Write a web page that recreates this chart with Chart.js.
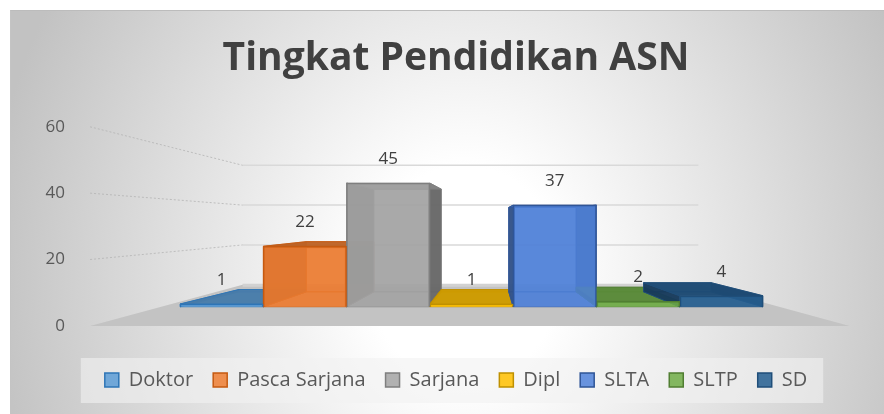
<!DOCTYPE html>
<html>
<head>
<meta charset="utf-8">
<script src="https://cdn.jsdelivr.net/npm/chart.js@4"></script>
<style>
html, body { margin: 0; padding: 0; background: #fff; }
#latar {
    position: absolute; left: 10px; top: 10px; width: 874px; height: 404px;
    box-sizing: border-box;
    border-top: 1px solid #bcbcbc; border-left: 1px solid #c4c4c4;
    background: radial-gradient(ellipse 480px 540px at 454px 263px, #ffffff 0%, #ffffff 20%, #c2c2c2 100%);
}
#wadah { position: absolute; left: 0; top: 0; width: 884px; height: 414px; }
</style>
</head>
<body>
<div id="latar"></div>
<div id="wadah"><canvas id="chartPendidikan" width="884" height="414"></canvas></div>
<script>
const kategori = ['Doktor', 'Pasca Sarjana', 'Sarjana', 'Dipl', 'SLTA', 'SLTP', 'SD'];
const jumlah = [1, 22, 45, 1, 37, 2, 4];
const tickY = [0, 20, 40, 60];
const warnaIsi = ['#5B9BD5', '#ED7D31', '#A5A5A5', '#FFC000', '#4F81D9', '#70AD47', '#255E91'];
const warnaGaris = ['#2E75B6', '#C55A11', '#7F7F7F', '#BF9000', '#2F5597', '#507E32', '#1F4E79'];

function rgba(hex, f, a) {
    const n = parseInt(hex.slice(1), 16);
    const r = Math.round(((n >> 16) & 255) * f), g = Math.round(((n >> 8) & 255) * f), b = Math.round((n & 255) * f);
    return `rgba(${r},${g},${b},${a})`;
}

function poligon(ctx, titik, isi, garis) {
    ctx.beginPath();
    ctx.moveTo(titik[0][0], titik[0][1]);
    for (let i = 1; i < titik.length; i++) ctx.lineTo(titik[i][0], titik[i][1]);
    ctx.closePath();
    ctx.fillStyle = isi;
    ctx.fill();
    if (garis) { ctx.strokeStyle = garis; ctx.lineWidth = 1; ctx.stroke(); }
}

// lantai, dinding belakang dan sisi-sisi balok 3D
const efek3D = {
    id: 'efek3D',
    beforeDraw(chart) {
        const lg = chart.legend;
        if (!lg || !lg.legendHitBoxes.length) return;
        const hb = lg.legendHitBoxes;
        const kiri = Math.min(...hb.map(h => h.left)) - 24;
        const kanan = Math.max(...hb.map(h => h.left + h.width)) + 16;
        const atas = hb[0].top + hb[0].height / 2 - 22;
        const ctx = chart.ctx;
        ctx.save();
        ctx.fillStyle = 'rgba(242,242,242,0.6)';
        ctx.fillRect(kiri, atas, kanan - kiri, 45);
        ctx.restore();
    },
    beforeDatasetsDraw(chart) {
        const {ctx, chartArea: ca, scales: {x, y, yb}} = chart;
        const w = x.getPixelForValue(1) - x.getPixelForValue(0);
        const vxw = (ca.left + ca.right) / 2, vyw = y.getPixelForValue(31), kw = 0.6;
        const dinding = v => vyw + (y.getPixelForValue(v) - vyw) * kw;
        const fl = x.getPixelForValue(0) - 1.58 * w, fr = x.getPixelForValue(kategori.length - 1) + 1.54 * w;
        const fy = y.getPixelForValue(0);
        const bl = vxw + (fl - vxw) * kw, br = vxw + (fr - vxw) * kw, by = dinding(0);
        ctx.save();
        poligon(ctx, [[fl, fy], [fr, fy], [br, by], [bl, by]], '#c3c3c3');
        ctx.fillStyle = '#d2d2d2';
        ctx.fillRect(bl, by - 1, br - bl, 3);
        tickY.forEach(v => {
            if (v === 0) return;
            ctx.beginPath();
            ctx.moveTo(bl, dinding(v)); ctx.lineTo(br, dinding(v));
            ctx.strokeStyle = '#d9d9d9'; ctx.lineWidth = 1.5; ctx.stroke();
            ctx.beginPath();
            ctx.setLineDash([2, 2]);
            ctx.moveTo(fl, y.getPixelForValue(v)); ctx.lineTo(bl, dinding(v));
            ctx.strokeStyle = 'rgba(180,180,180,0.8)'; ctx.lineWidth = 1; ctx.stroke();
            ctx.setLineDash([]);
        });

        const vx = (ca.left + ca.right) / 2 + 0.22 * w, vy = yb.getPixelForValue(32), kx = 0.81, ky = 0.83;
        const P = (px, py) => [vx + (px - vx) * kx, vy + (py - vy) * ky];
        chart.data.datasets.forEach((ds, i) => {
            const meta = chart.getDatasetMeta(i);
            meta.data.forEach((el, j) => {
                if (ds.data[j] == null) return;
                const p = el.getProps(['x', 'y', 'base', 'width'], true);
                const l = p.x - p.width / 2, r = p.x + p.width / 2, t = p.y, b = p.base;
                const garis = rgba(warnaGaris[i], 1, 0.8);
                poligon(ctx, [P(l, t), P(r, t), P(r, b), P(l, b)], rgba(warnaIsi[i], 0.9, 0.55), garis);
                poligon(ctx, [[l, b], [r, b], P(r, b), P(l, b)], rgba(warnaIsi[i], 0.9, 0.5), garis);
                poligon(ctx, [[l, t], P(l, t), P(l, b), [l, b]], rgba(warnaIsi[i], 0.62, 0.92), garis);
                poligon(ctx, [[r, t], P(r, t), P(r, b), [r, b]], rgba(warnaIsi[i], 0.62, 0.92), garis);
                poligon(ctx, [[l, t], [r, t], P(r, t), P(l, t)], rgba(warnaIsi[i], 0.8, 0.95), garis);
            });
        });
        ctx.restore();
    },
    afterDatasetsDraw(chart) {
        const ctx = chart.ctx;
        ctx.save();
        ctx.font = '17px "Open Sans"';
        ctx.fillStyle = '#404040';
        ctx.textAlign = 'center';
        ctx.textBaseline = 'middle';
        chart.data.datasets.forEach((ds, i) => {
            chart.getDatasetMeta(i).data.forEach((el, j) => {
                if (ds.data[j] == null) return;
                ctx.fillText(ds.data[j], el.x, el.y - 24);
            });
        });
        ctx.restore();
    }
};

Chart.defaults.font.family = '"Open Sans", sans-serif';

const ctx = document.getElementById('chartPendidikan').getContext('2d');
const datasets = kategori.map((k, i) => ({
    label: k,
    data: kategori.map((_, j) => (j === i ? jumlah[i] : null)),
    backgroundColor: rgba(warnaIsi[i], 1, 0.85),
    borderColor: warnaGaris[i],
    borderWidth: 1.5,
    yAxisID: 'yb',
    barPercentage: 1,
    categoryPercentage: 1
}));

new Chart(ctx, {
    type: 'bar',
    data: { labels: kategori, datasets: datasets },
    plugins: [efek3D],
    options: {
        responsive: false,
        animation: false,
        events: [],
        grouped: false,
        layout: { padding: { left: 42, right: 14, top: 0, bottom: 14 } },
        plugins: {
            tooltip: { enabled: false },
            title: {
                display: true,
                text: 'Tingkat Pendidikan ASN',
                color: '#404040',
                font: { size: 39, weight: 'bold' },
                padding: { top: 35, bottom: 45 }
            },
            legend: {
                position: 'bottom',
                labels: {
                    color: '#595959',
                    font: { size: 20 },
                    boxWidth: 14,
                    boxHeight: 14,
                    padding: 20
                }
            }
        },
        scales: {
            x: { display: false },
            y: {
                position: 'left',
                min: -7.27,
                max: 60,
                grid: { display: false, drawTicks: false },
                border: { display: false },
                ticks: { padding: 115, color: '#595959', font: { size: 17 } },
                afterBuildTicks: s => { s.ticks = tickY.map(v => ({ value: v })); },
                afterFit: s => { s.width = 138; s.paddingTop = 0; s.paddingBottom = 0; }
            },
            yKanan: {
                position: 'right',
                grid: { display: false, drawTicks: false },
                border: { display: false },
                ticks: { display: false },
                afterFit: s => { s.width = 107; }
            },
            yb: { display: false, min: -15.73, max: 65.49 }
        }
    }
});
</script>
</body>
</html>
